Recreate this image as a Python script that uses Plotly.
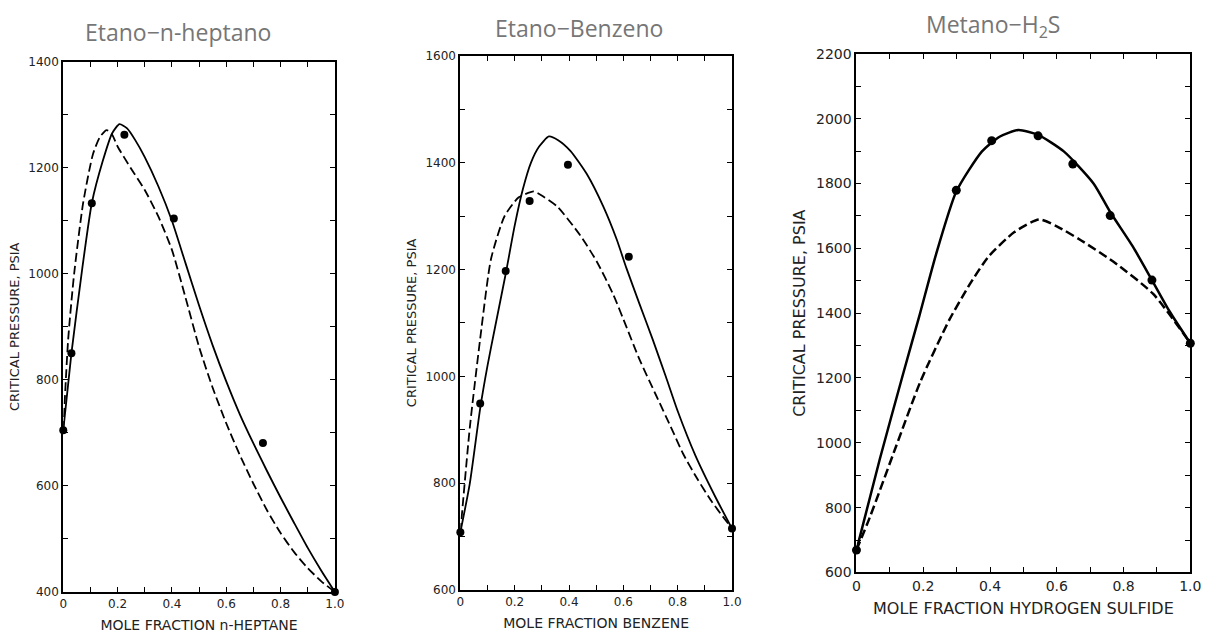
import plotly.graph_objects as go

# ---------------- Data: Etano - n-heptano ----------------
hep_pts_x = [0.0, 0.03, 0.105, 0.225, 0.407, 0.735, 1.0]
hep_pts_p = [705, 850, 1133, 1262, 1104, 681, 400]
hep_solid_x = [0.0, 0.03, 0.07, 0.105, 0.145, 0.18, 0.207, 0.235, 0.265, 0.3, 0.35, 0.4, 0.45,
               0.5, 0.55, 0.6, 0.65, 0.7, 0.75, 0.8, 0.85, 0.9, 0.95, 1.0]
hep_solid_p = [705, 850, 1010, 1133, 1212, 1265, 1282, 1274, 1252, 1220, 1165, 1100, 1020,
               940, 865, 797, 735, 680, 628, 578, 530, 483, 440, 400]
hep_dash_x = [0.0, 0.018, 0.04, 0.073, 0.109, 0.135, 0.16, 0.18, 0.2, 0.25, 0.3, 0.35, 0.4,
              0.45, 0.5, 0.55, 0.6, 0.65, 0.7, 0.75, 0.8, 0.85, 0.9, 0.95, 1.0]
hep_dash_p = [705, 876, 1000, 1133, 1225, 1258, 1271, 1262, 1240, 1198, 1158, 1108, 1045,
              955, 862, 785, 718, 658, 604, 554, 511, 475, 445, 420, 400]

# ---------------- Data: Etano - Benceno ----------------
ben_pts_x = [0.0, 0.073, 0.167, 0.255, 0.396, 0.62, 1.0]
ben_pts_p = [708, 949, 1197, 1328, 1396, 1224, 715]
ben_solid_x = [0.0, 0.035, 0.073, 0.1, 0.127, 0.167, 0.2, 0.23, 0.26, 0.29, 0.326, 0.36, 0.405,
               0.465, 0.526, 0.575, 0.611, 0.659, 0.708, 0.756, 0.8, 0.865, 0.938, 1.0]
ben_solid_p = [708, 800, 940, 1020, 1090, 1192, 1282, 1350, 1400, 1430, 1449, 1442, 1422,
               1379, 1318, 1257, 1203, 1136, 1069, 1000, 935, 852, 775, 715]
ben_dash_x = [0.0, 0.035, 0.077, 0.113, 0.163, 0.215, 0.27, 0.284, 0.356, 0.441, 0.502, 0.562,
              0.611, 0.659, 0.72, 0.775, 0.82, 0.87, 0.926, 1.0]
ben_dash_p = [708, 905, 1087, 1220, 1300, 1335, 1346, 1343, 1318, 1264, 1215, 1154,
              1093, 1032, 965, 905, 855, 810, 765, 715]

# ---------------- Data: Metano - H2S ----------------
h2s_pts_x = [0.0, 0.299, 0.405, 0.544, 0.648, 0.76, 0.885, 1.0]
h2s_pts_p = [669, 1779, 1932, 1947, 1860, 1701, 1502, 1307]
h2s_solid_x = [0.0, 0.07, 0.139, 0.188, 0.238, 0.299, 0.376, 0.43, 0.485, 0.544, 0.621, 0.71,
               0.76, 0.828, 0.885, 0.938, 1.0]
h2s_solid_p = [669, 950, 1210, 1390, 1580, 1775, 1899, 1945, 1965, 1950, 1899, 1800,
               1712, 1605, 1502, 1405, 1307]
h2s_dash_x = [0.0, 0.04, 0.119, 0.192, 0.278, 0.34, 0.396, 0.473, 0.547, 0.6, 0.672, 0.769,
              0.888, 1.0]
h2s_dash_p = [669, 770, 990, 1190, 1379, 1490, 1575, 1650, 1689, 1668, 1625, 1559,
              1460, 1307]

titles = ["Etano\u2212n-heptano", "Etano\u2212Benzeno", "Metano\u2212H<sub>2</sub>S"]
xtitles = ["MOLE FRACTION n-HEPTANE", "MOLE FRACTION BENZENE", "MOLE FRACTION HYDROGEN SULFIDE"]
ytitle = "CRITICAL PRESSURE, PSIA"
y_ranges = [(400, 1400), (600, 1600), (600, 2200)]
x_ticks = [0.0, 0.1, 0.2, 0.3, 0.4, 0.5, 0.6, 0.7, 0.8, 0.9, 1.0]
x_tick_text = ["0", "", "0.2", "", "0.4", "", "0.6", "", "0.8", "", "1.0"]

W, H = 1228, 636
# plot boxes in pixels (left, right, top, bottom)
boxes = [(60, 335, 55, 599), (462, 737, 49, 597), (863, 1201, 47, 579)]
title_pos = [(176, 25), (582, 21), (1001, 18)]
tick_sizes = [12, 12, 14]
xtitle_sizes = [14, 14, 16]
ytitle_sizes = [13, 13, 16]
line_widths = [1.8, 1.8, 2.5]
marker_sizes = [8, 8, 9]

fig = go.Figure()
datasets = [
    (hep_pts_x, hep_pts_p, hep_solid_x, hep_solid_p, hep_dash_x, hep_dash_p),
    (ben_pts_x, ben_pts_p, ben_solid_x, ben_solid_p, ben_dash_x, ben_dash_p),
    (h2s_pts_x, h2s_pts_p, h2s_solid_x, h2s_solid_p, h2s_dash_x, h2s_dash_p),
]

for i, (px, pp, sx, sp, dx, dp) in enumerate(datasets):
    xa = "x" if i == 0 else f"x{i+1}"
    ya = "y" if i == 0 else f"y{i+1}"
    lw = line_widths[i]
    fig.add_trace(go.Scatter(x=dx, y=dp, mode="lines", xaxis=xa, yaxis=ya,
                             line=dict(color="black", width=lw, dash="9px,4px", shape="spline", smoothing=0.6),
                             showlegend=False, hoverinfo="skip"))
    fig.add_trace(go.Scatter(x=sx, y=sp, mode="lines", xaxis=xa, yaxis=ya,
                             line=dict(color="black", width=lw, shape="spline", smoothing=0.6),
                             showlegend=False, hoverinfo="skip"))
    fig.add_trace(go.Scatter(x=px, y=pp, mode="markers", xaxis=xa, yaxis=ya, cliponaxis=False,
                             marker=dict(color="black", size=marker_sizes[i]),
                             showlegend=False))

layout = dict(width=W, height=H, margin=dict(l=0, r=0, t=0, b=0),
              paper_bgcolor="white", plot_bgcolor="white", showlegend=False, annotations=[])

for i, (l, r, t, b) in enumerate(boxes):
    xk = "xaxis" if i == 0 else f"xaxis{i+1}"
    yk = "yaxis" if i == 0 else f"yaxis{i+1}"
    ya_id = "y" if i == 0 else f"y{i+1}"
    xa_id = "x" if i == 0 else f"x{i+1}"
    y0, y1 = y_ranges[i]
    yvals = list(range(y0, y1 + 1, 100))
    ytext = [str(v) if (v - y0) % 200 == 0 else "" for v in yvals]
    tick_font = dict(family="DejaVu Sans", size=tick_sizes[i], color="#222")
    layout[xk] = dict(domain=[l / W, r / W], anchor=ya_id, range=[0, 1],
                      showline=True, linecolor="black", linewidth=2, mirror="ticks",
                      ticks="inside", ticklen=5, tickwidth=1.3, tickcolor="black",
                      tickvals=x_ticks, ticktext=x_tick_text, tickfont=tick_font,
                      showgrid=False, zeroline=False,
                      title=dict(text=xtitles[i],
                                 font=dict(family="DejaVu Sans", size=xtitle_sizes[i], color="#222"),
                                 standoff=10))
    layout[yk] = dict(domain=[1 - b / H, 1 - t / H], anchor=xa_id, range=[y0, y1],
                      showline=True, linecolor="black", linewidth=2, mirror="ticks",
                      ticks="inside", ticklen=5, tickwidth=1.3, tickcolor="black",
                      tickvals=yvals, ticktext=ytext, tickfont=tick_font,
                      showgrid=False, zeroline=False,
                      title=dict(text=ytitle,
                                 font=dict(family="DejaVu Sans", size=ytitle_sizes[i], color="#222"),
                                 standoff=6))
    tx, ty = title_pos[i]
    layout["annotations"].append(dict(text=titles[i], x=tx / W, y=1 - ty / H, xref="paper", yref="paper",
                                      xanchor="center", yanchor="middle", showarrow=False,
                                      font=dict(family="Open Sans", size=23, color="#767676")))

fig.update_layout(**layout)
fig.write_html("out.html")
